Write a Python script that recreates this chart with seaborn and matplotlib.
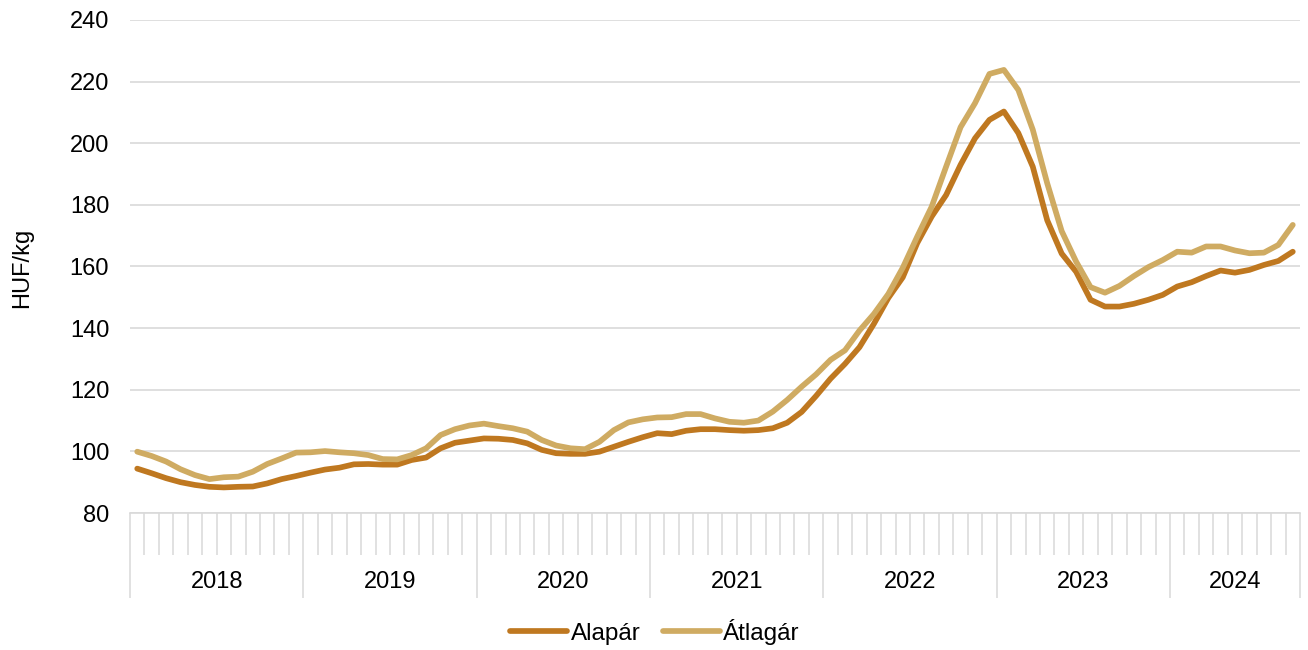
import numpy as np
import matplotlib
matplotlib.use("Agg")
import matplotlib.pyplot as plt
import pandas as pd
import seaborn as sns

# monthly prices, Jan 2018 - Sep 2024
months = pd.date_range("2018-01-01", "2024-09-01", freq="MS")

alapar = [94.4, 92.9, 91.3, 90.0, 89.1, 88.5, 88.3, 88.5, 88.6, 89.6, 91.0, 92.0,
          93.1, 94.1, 94.7, 95.8, 95.9, 95.7, 95.7, 97.2, 98.0, 101.0, 102.8, 103.5,
          104.2, 104.1, 103.7, 102.6, 100.5, 99.4, 99.2, 99.2, 99.9, 101.5, 103.1, 104.6,
          105.9, 105.6, 106.7, 107.2, 107.2, 106.9, 106.7, 106.9, 107.5, 109.3, 112.8, 118.0,
          123.6, 128.4, 133.8, 141.4, 149.8, 156.5, 167.6, 176.2, 183.2, 193.0, 201.6, 207.6,
          210.3, 203.3, 192.4, 175.0, 164.2, 158.3, 149.2, 147.0, 147.0, 147.9, 149.2, 150.8,
          153.5, 154.9, 156.9, 158.7, 158.0, 158.9, 160.5, 161.8, 164.8]

atlagar = [99.9, 98.5, 96.7, 94.2, 92.3, 91.0, 91.6, 91.8, 93.4, 95.9, 97.7, 99.6,
           99.7, 100.1, 99.7, 99.4, 98.8, 97.5, 97.4, 98.8, 101.0, 105.3, 107.2, 108.4,
           109.0, 108.2, 107.5, 106.4, 103.7, 101.9, 101.0, 100.7, 103.1, 106.9, 109.4, 110.4,
           111.0, 111.1, 112.1, 112.1, 110.7, 109.6, 109.3, 110.0, 112.9, 116.7, 121.0, 125.0,
           129.7, 132.8, 139.2, 144.6, 151.1, 159.6, 169.7, 179.4, 192.4, 205.2, 213.0, 222.5,
           223.8, 217.3, 204.4, 187.0, 171.5, 161.6, 153.3, 151.5, 153.7, 156.9, 159.8, 162.1,
           164.8, 164.5, 166.5, 166.5, 165.2, 164.3, 164.5, 167.0, 173.5]

series_names = ["Alapár", "Átlagár"]
colors = ["#BF7820", "#CFAB62"]

sns.set_theme(style="white")
plt.rcParams["font.family"] = ["Liberation Sans", "DejaVu Sans"]
plt.rcParams["text.color"] = "black"

n = len(months)
df = pd.DataFrame({
    "idx": np.tile(np.arange(n), 2),
    "value": alapar + atlagar,
    "series": [series_names[0]] * n + [series_names[1]] * n,
})

fig = plt.figure(figsize=(13.08, 6.5), dpi=100)
ax = fig.add_axes([130 / 1308, 1 - 513 / 650, 1170 / 1308, 493 / 650])

sns.lineplot(data=df, x="idx", y="value", hue="series", palette=colors,
             linewidth=4.1, ax=ax, legend=False)

ax.set_xlim(-0.5, n - 0.5)
ax.set_ylim(80, 240)
ax.set_yticks(np.arange(80, 241, 20))
ax.yaxis.grid(True, color="#d9d9d9", linewidth=1.2)
ax.set_axisbelow(True)
ax.tick_params(axis="y", left=False, length=0, pad=15, labelsize=17, labelcolor="black")

for s in ["top", "right", "left"]:
    ax.spines[s].set_visible(False)
ax.spines["bottom"].set_visible(True)
ax.spines["bottom"].set_color("#d9d9d9")
ax.spines["bottom"].set_linewidth(1.2)

years = months.year.values
year_starts = [i for i in range(n) if i == 0 or years[i] != years[i - 1]]
bounds = [b - 0.5 for b in year_starts] + [n - 0.5]
ax.set_xticks(bounds)
ax.set_xticklabels([])
ax.set_xticks(np.arange(n + 1) - 0.5, minor=True)
ax.tick_params(axis="x", which="both", bottom=True, color="#d9d9d9", direction="out")
ax.tick_params(axis="x", which="major", length=61, width=1.1)
ax.tick_params(axis="x", which="minor", length=30, width=1.1)

for k, start in enumerate(year_starts):
    end = year_starts[k + 1] if k + 1 < len(year_starts) else n
    ax.annotate(str(years[start]), xy=((start + end - 1) / 2, 0),
                xycoords=("data", "axes fraction"), xytext=(0, -50),
                textcoords="offset points", ha="center", va="center",
                fontsize=17, color="black")

ax.set_xlabel("")
ax.set_ylabel("")
fig.text(22 / 1308, 1 - 268 / 650, "HUF/kg", rotation=90, ha="center", va="center",
         fontsize=17, color="black")

handles = [plt.Line2D([], [], color=c, linewidth=4.1) for c in colors]
fig.legend(handles, series_names, loc="center", bbox_to_anchor=(655 / 1308, 1 - 632 / 650),
           ncol=2, frameon=False, fontsize=17.5, handlelength=2.35, handletextpad=0.15,
           columnspacing=0.9, labelcolor="black")

fig.savefig("out.png", dpi=100)
